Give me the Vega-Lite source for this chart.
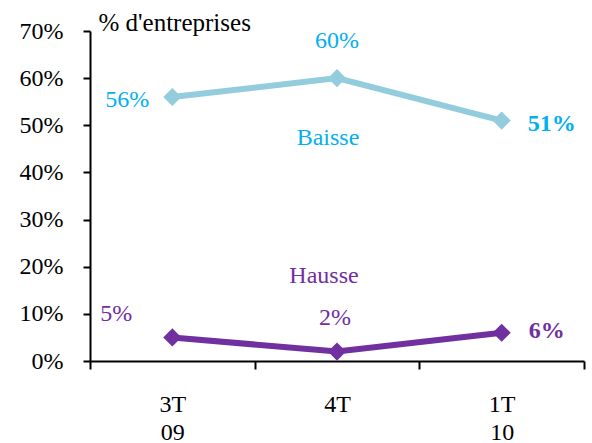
{
  "$schema": "https://vega.github.io/schema/vega-lite/v6.json",
  "width": 494,
  "height": 330,
  "autosize": "none",
  "padding": {"left": 90, "top": 31, "right": 8, "bottom": 82},
  "background": "white",
  "config": {
    "view": {"stroke": null},
    "font": "Times New Roman, Liberation Serif, serif",
    "axis": {"grid": false, "domainColor": "black", "domainWidth": 2, "tickColor": "black", "tickWidth": 2, "labelColor": "black", "labelFont": "Times New Roman, Liberation Serif, serif", "labelFontSize": 24, "titleFont": "Times New Roman, Liberation Serif, serif"}
  },
  "data": {
    "values": [
      {"q": "3T 09", "serie": "Baisse", "v": 0.56},
      {"q": "4T", "serie": "Baisse", "v": 0.60},
      {"q": "1T 10", "serie": "Baisse", "v": 0.51},
      {"q": "3T 09", "serie": "Hausse", "v": 0.05},
      {"q": "4T", "serie": "Hausse", "v": 0.02},
      {"q": "1T 10", "serie": "Hausse", "v": 0.06}
    ]
  },
  "encoding": {
    "x": {
      "field": "q", "type": "nominal", "sort": ["3T 09", "4T", "1T 10"],
      "scale": {"type": "band", "paddingInner": 0, "paddingOuter": 0},
      "axis": {"title": null, "labelAngle": 0, "tickBand": "extent", "tickSize": 8, "labelPadding": 23, "labelLineHeight": 28, "labelExpr": "split(datum.label, ' ')", "labelBaseline": "top"}
    },
    "y": {
      "field": "v", "type": "quantitative",
      "scale": {"domain": [0, 0.7], "nice": false},
      "axis": {"values": [0, 0.1, 0.2, 0.3, 0.4, 0.5, 0.6, 0.7], "format": ".0%", "tickSize": 7, "labelPadding": 20,
        "title": "% d'entreprises", "titleAngle": 0, "titleX": 8, "titleY": -1, "titleAlign": "left", "titleBaseline": "alphabetic", "titleFontSize": 25, "titleFontWeight": "normal", "titleColor": "black"}
    }
  },
  "layer": [
    {
      "mark": {"type": "line", "strokeWidth": 6},
      "encoding": {"color": {"field": "serie", "type": "nominal", "scale": {"domain": ["Baisse", "Hausse"], "range": ["#93CDDD", "#7030A0"]}, "legend": null}}
    },
    {
      "mark": {"type": "point", "shape": "diamond", "filled": true, "size": 330, "opacity": 1},
      "encoding": {"color": {"field": "serie", "type": "nominal", "legend": null}}
    },
    {
      "transform": [{"filter": "datum.q == '3T 09' && datum.serie == 'Baisse'"}],
      "mark": {"type": "text", "fontSize": 24, "color": "#00B0F0", "dx": -45, "dy": 10, "baseline": "alphabetic"},
      "encoding": {"text": {"field": "v", "format": ".0%"}}
    },
    {
      "transform": [{"filter": "datum.q == '4T' && datum.serie == 'Baisse'"}],
      "mark": {"type": "text", "fontSize": 24, "color": "#00B0F0", "dx": 0, "dy": -30, "baseline": "alphabetic"},
      "encoding": {"text": {"field": "v", "format": ".0%"}}
    },
    {
      "transform": [{"filter": "datum.q == '1T 10' && datum.serie == 'Baisse'"}],
      "mark": {"type": "text", "fontSize": 24, "fontWeight": "bold", "color": "#00B0F0", "dx": 50, "dy": 10, "baseline": "alphabetic"},
      "encoding": {"text": {"field": "v", "format": ".0%"}}
    },
    {
      "transform": [{"filter": "datum.q == '3T 09' && datum.serie == 'Hausse'"}],
      "mark": {"type": "text", "fontSize": 24, "color": "#7030A0", "dx": -56, "dy": -16, "baseline": "alphabetic"},
      "encoding": {"text": {"field": "v", "format": ".0%"}}
    },
    {
      "transform": [{"filter": "datum.q == '4T' && datum.serie == 'Hausse'"}],
      "mark": {"type": "text", "fontSize": 24, "color": "#7030A0", "dx": -2, "dy": -27, "baseline": "alphabetic"},
      "encoding": {"text": {"field": "v", "format": ".0%"}}
    },
    {
      "transform": [{"filter": "datum.q == '1T 10' && datum.serie == 'Hausse'"}],
      "mark": {"type": "text", "fontSize": 24, "fontWeight": "bold", "color": "#7030A0", "dx": 45, "dy": 5, "baseline": "alphabetic"},
      "encoding": {"text": {"field": "v", "format": ".0%"}}
    },
    {
      "transform": [{"filter": "datum.q == '4T' && datum.serie == 'Baisse'"}],
      "mark": {"type": "text", "fontSize": 24, "color": "#00B0F0", "dx": -9, "dy": 67, "baseline": "alphabetic"},
      "encoding": {"text": {"field": "serie"}}
    },
    {
      "transform": [{"filter": "datum.q == '4T' && datum.serie == 'Hausse'"}],
      "mark": {"type": "text", "fontSize": 24, "color": "#7030A0", "dx": -13, "dy": -69, "baseline": "alphabetic"},
      "encoding": {"text": {"field": "serie"}}
    }
  ]
}
